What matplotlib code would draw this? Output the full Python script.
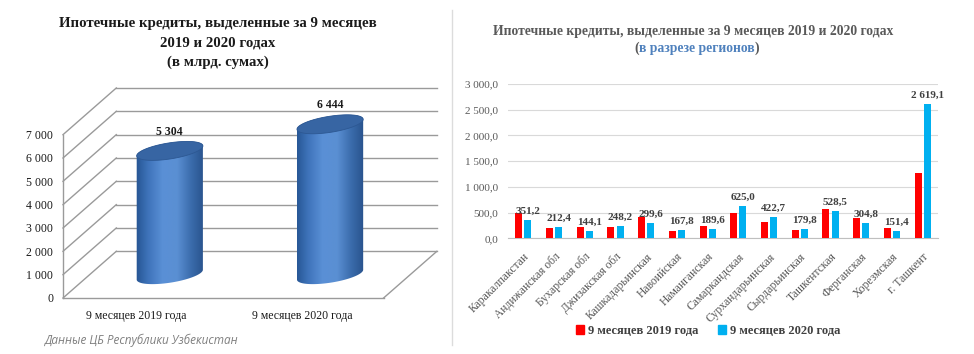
import numpy as np
import matplotlib
matplotlib.use("Agg")
import matplotlib.pyplot as plt
from matplotlib.patches import Polygon, Patch
from matplotlib.colors import LinearSegmentedColormap
from matplotlib.text import Annotation

# Данные: левая диаграмма (всего, млрд сумов)
periods = ["9 месяцев 2019 года", "9 месяцев 2020 года"]
totals = [5304, 6444]
total_labels = ["5 304", "6 444"]

# Данные: правая диаграмма (по регионам)
regions = ["Каракалпакстан", "Андижанская обл", "Бухарская обл", "Джизакская обл",
           "Кашкадарьинская", "Навоийская", "Наманганская", "Самаркандская",
           "Сурхандарьинская", "Сырдарьинская", "Ташкентская", "Ферганская",
           "Хорезмская", "г. Ташкент"]
vals_2019 = [495, 200, 210, 210, 410, 135, 238, 500, 325, 160, 570, 388, 203, 1260]
vals_2020 = [351.2, 212.4, 144.1, 248.2, 299.6, 167.8, 189.6, 625.0, 422.7, 179.8,
             528.5, 304.8, 151.4, 2619.1]

SERIF = ["Liberation Serif", "DejaVu Serif"]
W, H = 974, 354

fig = plt.figure(figsize=(W / 100, H / 100), dpi=100)


def fx(px):
    return px / W


def fy(py):
    return 1 - py / H


def fmt_num(v, dec=0):
    return f"{v:,.{dec}f}".replace(",", " ").replace(".", ",")


# ---------------- левая диаграмма ----------------
for txt, y in [("Ипотечные кредиты, выделенные за 9 месяцев", 23),
               ("2019 и 2020 годах", 43), ("(в млрд. сумах)", 62)]:
    fig.text(fx(218), fy(y), txt, ha="center", va="center", family=SERIF,
             fontsize=10.7, fontweight="bold", color="#1a1a1a")

ax_l, ax_b, ax_w, ax_h = 63, 298, 374, 210  # пиксели
ax1 = fig.add_axes([fx(ax_l), 1 - ax_b / H, ax_w / W, ax_h / H])
xmin, xmax = -0.5, 1.8333
ax1.set_xlim(xmin, xmax)
ax1.set_ylim(0, 9000)
sx = ax_w / (xmax - xmin)   # px на единицу x
sy = ax_h / 9000.0          # px на единицу значения
ddx, ddy = 53.3 / sx, 46.7 / sy  # глубина "3D"

for s in ax1.spines.values():
    s.set_visible(False)
ax1.set_yticks(range(0, 8000, 1000))
ax1.set_yticklabels([fmt_num(v) for v in range(0, 8000, 1000)], family=SERIF,
                    fontsize=8.5, color="#1a1a1a")
ax1.set_xticks([-0.04, 0.99])
ax1.set_xticklabels(periods, family=SERIF, fontsize=8.5, color="#1a1a1a")
ax1.tick_params(length=0)
ax1.tick_params(axis="y", pad=7)
ax1.tick_params(axis="x", pad=9)

gcol = "#9a9a9a"
for v in range(0, 8000, 1000):
    ax1.plot([-0.5 + ddx, 1.5 + ddx], [v + ddy, v + ddy], color=gcol, lw=1.0, clip_on=False)
    ax1.plot([-0.5, -0.5 + ddx], [v, v + ddy], color=gcol, lw=1.0, clip_on=False)
ax1.plot([-0.5, -0.5], [0, 7000], color=gcol, lw=1.0, clip_on=False)
ax1.plot([-0.5, 1.5], [0, 0], color=gcol, lw=1.0, clip_on=False)
ax1.plot([1.5, 1.5 + ddx], [0, ddy], color=gcol, lw=1.0, clip_on=False)

cyl_cmap = LinearSegmentedColormap.from_list(
    "cyl", ["#22508c", "#3f74bb", "#5a90d6", "#5a8fd3", "#3a6bab", "#264f88"])


def ellipse_pts(cx, cy, t):
    r, b, a = 33.5, 8.0, np.deg2rad(9)
    px = r * np.cos(t) * np.cos(a) - b * np.sin(t) * np.sin(a)
    py = r * np.cos(t) * np.sin(a) + b * np.sin(t) * np.cos(a)
    return cx + px / sx, cy + py / sy


for i, v in enumerate(totals):
    cx = i + ddx / 2
    base = ddy / 2
    top = base + v
    bx, by = ellipse_pts(cx, base, np.linspace(np.pi, 2 * np.pi, 60))
    tx, ty = ellipse_pts(cx, top, np.linspace(0, np.pi, 60))
    body = Polygon(np.column_stack([np.r_[bx, tx], np.r_[by, ty]]), closed=True,
                   facecolor="none", edgecolor="none")
    ax1.add_patch(body)
    grad = np.linspace(0, 1, 256).reshape(1, -1)
    im = ax1.imshow(grad, cmap=cyl_cmap, aspect="auto", origin="lower",
                    extent=[cx - 36 / sx, cx + 36 / sx, base - 20 / sy, top + 20 / sy],
                    zorder=3)
    im.set_clip_path(body)
    ex, ey = ellipse_pts(cx, top, np.linspace(0, 2 * np.pi, 120))
    ax1.add_patch(Polygon(np.column_stack([ex, ey]), closed=True,
                          facecolor="#3765a3", edgecolor="#2d5893", lw=0.6, zorder=4))
    ax1.text(cx, top + 19 / sy, total_labels[i], ha="center", va="center",
             family=SERIF, fontsize=8.5, fontweight="bold", color="#1a1a1a", zorder=5)

ax1.set_xlim(xmin, xmax)
ax1.set_ylim(0, 9000)

fig.text(fx(45), fy(340), "Данные ЦБ Республики Узбекистан", ha="left", va="center",
         family=["Open Sans", "DejaVu Sans"], style="italic", fontsize=8.5, color="#7f7f7f")

# разделитель
fig.add_artist(plt.Line2D([fx(452), fx(452)], [fy(10), fy(345)], color="#dcdcdc", lw=1))

# ---------------- правая диаграмма ----------------
fig.text(fx(693), fy(32), "Ипотечные кредиты, выделенные за 9 месяцев 2019 и 2020 годах",
         ha="center", va="center", family=SERIF, fontsize=9.8, fontweight="bold",
         color="#595959")
t1 = fig.text(fx(634), fy(48), "(", ha="left", va="center", family=SERIF, fontsize=9.8,
              fontweight="bold", color="#595959")
a2 = Annotation("в разрезе регионов", xy=(1, 0), xycoords=t1, va="bottom", ha="left",
                family=SERIF, fontsize=9.8, fontweight="bold", color="#4f81bd")
fig.add_artist(a2)
a3 = Annotation(")", xy=(1, 0), xycoords=a2, va="bottom", ha="left",
                family=SERIF, fontsize=9.8, fontweight="bold", color="#595959")
fig.add_artist(a3)

ax2 = fig.add_axes([fx(508), 1 - 238.3 / H, 430 / W, 154.3 / H])
x = np.arange(len(regions))
bw = 0.23
ax2.bar(x - 0.15, vals_2019, width=bw, color="#ff0000", zorder=3)
ax2.bar(x + 0.15, vals_2020, width=bw, color="#00b0f0", zorder=3)
for xi, v in zip(x, vals_2020):
    ax2.annotate(fmt_num(v, 1), (xi + 0.15, v), xytext=(0, 3), textcoords="offset points",
                 ha="center", va="bottom", family=SERIF, fontsize=8, fontweight="bold",
                 color="#404040", zorder=5)
ax2.set_xlim(-0.5, len(regions) - 0.5)
ax2.set_ylim(0, 3000)
ax2.set_yticks(np.arange(0, 3001, 500))
ax2.set_yticklabels([fmt_num(v, 1) for v in np.arange(0, 3001, 500)], family=SERIF,
                    fontsize=8, color="#595959")
ax2.yaxis.grid(True, color="#d9d9d9", lw=0.8, zorder=0)
for k in ["left", "right", "top"]:
    ax2.spines[k].set_visible(False)
ax2.spines["bottom"].set_color("#bfbfbf")
ax2.set_xticks(x)
ax2.set_xticklabels(regions, rotation=45, ha="right", va="top", rotation_mode="anchor",
                    family=SERIF, fontsize=8.4, color="#595959")
ax2.tick_params(length=0)
ax2.tick_params(axis="y", pad=7)
ax2.tick_params(axis="x", pad=9)

handles = [Patch(color="#ff0000"), Patch(color="#00b0f0")]
fig.legend(handles, ["9 месяцев 2019 года", "9 месяцев 2020 года"], loc="center",
           bbox_to_anchor=(fx(708), fy(331)), ncol=2, frameon=False,
           prop={"family": SERIF, "size": 9, "weight": "bold"}, handlelength=0.65,
           handleheight=0.65, handletextpad=0.3, columnspacing=1.6, labelcolor="#404040")

fig.savefig("out.png", dpi=100)
